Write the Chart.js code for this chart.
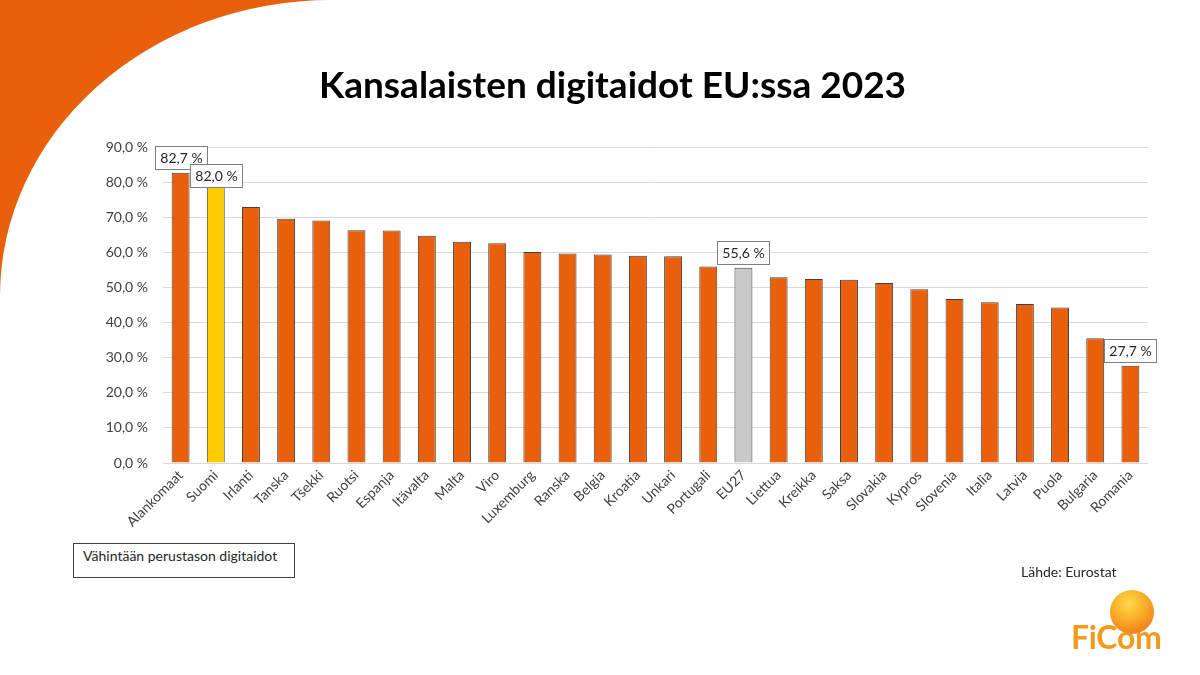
<!DOCTYPE html>
<html><head><meta charset="utf-8">
<script src="https://cdn.jsdelivr.net/npm/chart.js@4.4.1/dist/chart.umd.min.js"></script>
<style>
html,body{margin:0;padding:0;background:#fff;}
#wrap{position:relative;width:1200px;height:675px;overflow:hidden;background:#fff;}
#c{position:absolute;left:0;top:0;}
.t{position:absolute;white-space:nowrap;font-family:Lato,"Open Sans",sans-serif;}
#title{left:0;width:1225px;text-align:center;top:65px;font-size:37px;line-height:37px;font-weight:700;color:#000;}
#legendBox{position:absolute;left:73px;top:543px;width:222px;height:35px;box-sizing:border-box;border:1px solid #404040;padding:4px 0 0 9px;font-family:Lato,sans-serif;font-size:14px;line-height:16px;color:#262626;background:#fff;}
#source{left:1021px;top:564px;font-size:14px;line-height:16px;color:#262626;}
#logoBall{position:absolute;left:1110px;top:590px;width:44px;height:44px;border-radius:50%;
 background:radial-gradient(circle at 42% 30%,#FFD84A 0%,#FBB52C 35%,#F39020 65%,#E9651B 100%);}
#logoText{left:1071px;top:621px;font-size:32px;line-height:32px;font-weight:700;color:#F39A1E;letter-spacing:-0.3px;}
</style></head><body>
<div id="wrap">
<canvas id="c" width="1200" height="675"></canvas>
<div class="t" id="title">Kansalaisten digitaidot EU:ssa 2023</div>
<div id="legendBox">Vähintään perustason digitaidot</div>
<div class="t" id="source">Lähde: Eurostat</div>
<div id="logoBall"></div>
<div class="t" id="logoText">FiCom</div>
</div>
<script>
const categories = ['Alankomaat','Suomi','Irlanti','Tanska','Tšekki','Ruotsi','Espanja','Itävalta','Malta','Viro','Luxemburg','Ranska','Belgia','Kroatia','Unkari','Portugali','EU27','Liettua','Kreikka','Saksa','Slovakia','Kypros','Slovenia','Italia','Latvia','Puola','Bulgaria','Romania'];
const values = [82.7,82.0,72.9,69.6,69.1,66.3,66.2,64.7,63.0,62.6,60.1,59.7,59.4,59.0,58.9,56.0,55.6,52.9,52.4,52.2,51.3,49.5,46.7,45.8,45.3,44.3,35.5,27.7];
const seriesName = 'Vähintään perustason digitaidot';
const yMin = 0, yMax = 90, yStep = 10;
const labeledCategories = ['Alankomaat','Suomi','EU27','Romania'];

const ORANGE = '#E8600C', YELLOW = '#FFCC00', GREY = '#C9C9C9';
const highlight = {'Suomi': YELLOW, 'EU27': GREY};
const labelShift = {'Suomi': 16};

function fmt(v){ return v.toFixed(1).replace('.', ',') + ' %'; }

const bgArc = {
  id: 'bgArc',
  beforeDraw(chart){
    const ctx = chart.ctx;
    ctx.save();
    ctx.beginPath(); ctx.rect(0,0,332,300); ctx.clip();
    ctx.beginPath();
    ctx.rect(0,0,332,300);
    ctx.ellipse(331,296,331,296,0,0,Math.PI*2);
    ctx.fillStyle = ORANGE;
    ctx.fill('evenodd');
    ctx.restore();
  }
};

const valueLabels = {
  id: 'valueLabels',
  afterDatasetsDraw(chart){
    const ctx = chart.ctx;
    const meta = chart.getDatasetMeta(0);
    ctx.save();
    ctx.font = '14px Lato, sans-serif';
    labeledCategories.forEach(name => {
      const i = categories.indexOf(name);
      const bar = meta.data[i];
      const txt = fmt(values[i]);
      const w = Math.round(ctx.measureText(txt).width + 10);
      const h = 23;
      const bottom = Math.round(bar.y - 4 + (labelShift[name] || 0));
      const x = Math.round(bar.x - w/2);
      ctx.fillStyle = '#fff';
      ctx.fillRect(x, bottom - h, w, h);
      ctx.strokeStyle = '#7F7F7F';
      ctx.lineWidth = 1;
      ctx.strokeRect(x + 0.5, bottom - h + 0.5, w, h);
      ctx.fillStyle = '#262626';
      ctx.textAlign = 'center';
      ctx.textBaseline = 'middle';
      ctx.fillText(txt, x + w/2 + 0.5, bottom - h/2 + 1);
    });
    ctx.restore();
  }
};

new Chart(document.getElementById('c'), {
  type: 'bar',
  data: {
    labels: categories,
    datasets: [{
      label: seriesName,
      data: values,
      backgroundColor: categories.map(c => highlight[c] || ORANGE),
      borderColor: '#404040',
      borderWidth: 1,
      borderSkipped: 'bottom',
      barPercentage: 0.51,
      categoryPercentage: 1.0
    }]
  },
  options: {
    responsive: false,
    animation: false,
    devicePixelRatio: 1,
    layout: { padding: { left: 0, right: 52, top: 147, bottom: 112 } },
    plugins: { legend: { display: false }, title: { display: false }, tooltip: { enabled: false } },
    scales: {
      x: {
        grid: { display: false, drawTicks: false },
        border: { display: false },
        ticks: {
          color: '#404040', font: { family: 'Lato', size: 14 },
          maxRotation: 45, minRotation: 45, autoSkip: false, padding: 4
        },
        afterFit(scale){ scale.height = 100; }
      },
      y: {
        min: yMin, max: yMax,
        grid: { color: '#D9D9D9', lineWidth: 1, drawTicks: false },
        border: { display: false },
        ticks: {
          stepSize: yStep, color: '#404040', font: { family: 'Lato', size: 14 }, padding: 15,
          callback: v => fmt(v)
        },
        afterFit(scale){ scale.width = 163; }
      }
    }
  },
  plugins: [bgArc, valueLabels]
});
</script>
</body></html>
